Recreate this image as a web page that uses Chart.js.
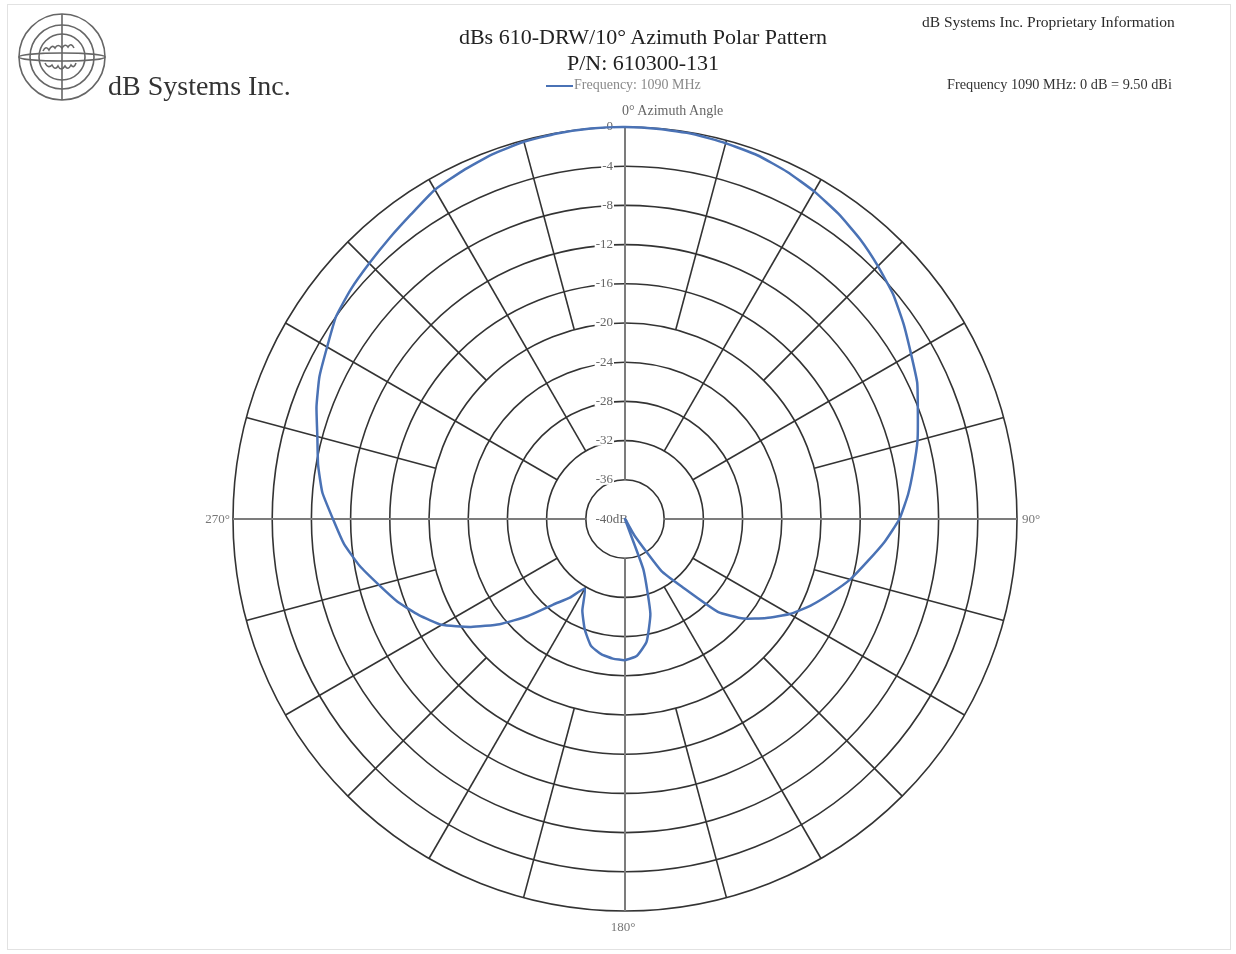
<!DOCTYPE html>
<html>
<head>
<meta charset="utf-8">
<title>dBs 610-DRW/10° Azimuth Polar Pattern</title>
<script src="https://cdn.jsdelivr.net/npm/chart.js@4.4.0/dist/chart.umd.min.js"></script>
<style>
    body { margin: 0; background: #fff; font-family: "Liberation Serif", "Times New Roman", serif; }
    #page { position: relative; width: 1236px; height: 954px; overflow: hidden; background: #fff; }
    #frame { position: absolute; left: 7px; top: 4px; width: 1224px; height: 946px; border: 1px solid #e2e2e2; box-sizing: border-box; }
    #polar { position: absolute; left: 0; top: 0; }
    .txt { position: absolute; white-space: nowrap; }
    #logo { position: absolute; left: 17px; top: 13px; }
    #company { left: 108px; top: 70px; font-size: 28px; color: #333; }
    #title { left: 0; width: 1286px; text-align: center; top: 24px; font-size: 22px; color: #222; line-height: 26px; }
    #legend { left: 546px; top: 77px; font-size: 14px; color: #8a8a8a; }
    #legend span { display: inline-block; width: 27px; height: 2px; background: #4a72b5; vertical-align: middle; margin-right: 1px; }
    #azTitle { left: 622px; top: 103px; font-size: 14px; color: #666; }
    #proprietary { left: 922px; top: 13px; font-size: 15.5px; color: #2a2a2a; }
    #freqNote { left: 947px; top: 76px; font-size: 14.3px; color: #333; }
</style>
</head>
<body>
<div id="page">
    <div id="frame"></div>
    <canvas id="polar" width="1236" height="954"></canvas>
    <svg id="logo" width="92" height="90" viewBox="0 0 92 90">
        <g fill="none" stroke="#666" stroke-width="1.6">
            <circle cx="45" cy="44" r="43"/>
            <circle cx="45" cy="44" r="32"/>
            <circle cx="45" cy="44" r="23"/>
            <line x1="45" y1="1" x2="45" y2="87"/>
            <ellipse cx="45" cy="44" rx="43" ry="4"/>
            <path d="M26 38 q3 -6 6 -1 q3 -6 6 -2 q3 -5 7 0 q3 -5 6 -1 q3 -5 6 1"/>
            <path d="M28 50 q3 6 7 2 q3 6 6 1 q3 6 7 0 q3 5 6 -1 q3 4 5 -2"/>
        </g>
    </svg>
    <div class="txt" id="company">dB Systems Inc.</div>
    <div class="txt" id="title">dBs 610-DRW/10° Azimuth Polar Pattern<br>P/N: 610300-131</div>
    <div class="txt" id="legend"><span></span>Frequency: 1090 MHz</div>
    <div class="txt" id="azTitle">0° Azimuth Angle</div>
    <div class="txt" id="proprietary">dB Systems Inc. Proprietary Information</div>
    <div class="txt" id="freqNote">Frequency 1090 MHz: 0 dB = 9.50 dBi</div>
</div>
<script>
// azimut en grados, cada 5°
const azimuth = [
    0, 5, 10, 15, 20, 25, 30, 35, 40, 45, 50, 55,
    60, 65, 70, 75, 80, 85, 90, 95, 100, 105, 110, 115,
    120, 125, 130, 135, 140, 145, 150, 155, 160, 165, 170, 175,
    180, 185, 190, 195, 200, 205, 210, 215, 220, 225, 230, 235,
    240, 245, 250, 255, 260, 265, 270, 275, 280, 285, 290, 295,
    300, 305, 310, 315, 320, 325, 330, 335, 340, 345, 350, 355
];

const gain1090 = [
    0, -0.05, -0.1, -0.3, -0.5, -0.9, -1.4, -2.0, -2.7, -3.5, -4.3, -5.3,
    -6.3, -7.1, -8.2, -9.1, -10.1, -11.0, -12.0, -13.4, -14.9, -16.2, -17.7, -19.1,
    -20.6, -22.4, -24.2, -26.6, -31.0, -33.5, -38.0, -40, -34.5, -30.0, -27.3, -26.0,
    -25.6, -25.7, -26.0, -26.6, -28.0, -29.7, -31.8, -30.2, -28.6, -26.0, -23.3, -20.8,
    -18.4, -16.8, -15.3, -14.0, -12.5, -11.2, -10.2, -9.0, -8.2, -7.5, -6.5, -5.6,
    -4.9, -4.0, -3.5, -3.1, -2.6, -2.0, -1.2, -0.8, -0.4, -0.15, -0.05, 0
];

// anillos del eje radial
const ringTicks = [0, -4, -8, -12, -16, -20, -24, -28, -32, -36];
const ringLabels = ['0', '-4', '-8', '-12', '-16', '-20', '-24', '-28', '-32', '-36'];
const spokeAngles = [0, 15, 30, 45, 60, 75, 90, 105, 120, 135, 150, 165,
    180, 195, 210, 225, 240, 255, 270, 285, 300, 315, 330, 345];

const polarGrid = {
    id: 'polarGrid',
    beforeDatasetsDraw(chart) {
        const r = chart.scales.r;
        const ctx = chart.ctx;
        const cx = r.xCenter, cy = r.yCenter;
        ctx.save();

        // círculos
        ctx.strokeStyle = '#333';
        ctx.lineWidth = 1.6;
        ringTicks.forEach(v => {
            ctx.beginPath();
            ctx.arc(cx, cy, r.getDistanceFromCenterForValue(v), 0, Math.PI * 2);
            ctx.stroke();
        });

        // radios: los de 90° llegan a -36, los de 30° a -32, el resto a -20
        spokeAngles.forEach(a => {
            const idx = azimuth.indexOf(a);
            const inner = a % 90 === 0 ? -36 : (a % 30 === 0 ? -32 : -20);
            const p1 = r.getPointPosition(idx, r.getDistanceFromCenterForValue(inner));
            const p2 = r.getPointPosition(idx, r.drawingArea);
            ctx.strokeStyle = a % 90 === 0 ? '#7c7c7c' : '#333';
            ctx.lineWidth = a % 90 === 0 ? 2 : 1.6;
            ctx.beginPath();
            ctx.moveTo(p1.x, p1.y);
            ctx.lineTo(p2.x, p2.y);
            ctx.stroke();
        });

        // etiquetas de los anillos
        ctx.font = '13px "Liberation Serif", serif';
        ctx.textAlign = 'right';
        ctx.textBaseline = 'middle';
        ringTicks.forEach((v, i) => {
            const y = cy - r.getDistanceFromCenterForValue(v);
            const w = ctx.measureText(ringLabels[i]).width;
            ctx.fillStyle = '#fff';
            ctx.fillRect(cx - 12 - w - 1, y - 5, w + 2, 10);
            ctx.fillStyle = '#666';
            ctx.fillText(ringLabels[i], cx - 12, y);
        });
        ctx.fillText('-40dB', cx + 3, cy + 1);

        // etiquetas de azimut
        ctx.fillStyle = '#777';
        ctx.fillText('270°', cx - r.drawingArea - 3, cy + 1);
        ctx.textAlign = 'left';
        ctx.fillText('90°', cx + r.drawingArea + 5, cy + 1);
        ctx.textAlign = 'center';
        ctx.fillText('180°', cx - 2, cy + r.drawingArea + 17);
        ctx.restore();
    }
};

const ctx = document.getElementById('polar').getContext('2d');
new Chart(ctx, {
    type: 'radar',
    data: {
        labels: azimuth,
        datasets: [{
            label: 'Frequency: 1090 MHz',
            data: gain1090,
            borderColor: '#4a72b5',
            borderWidth: 2.5,
            fill: false,
            pointRadius: 0,
            pointHoverRadius: 0,
            tension: 0.15
        }]
    },
    options: {
        responsive: false,
        animation: false,
        layout: { padding: { left: 233, right: 219, top: 127, bottom: 43 } },
        plugins: {
            legend: { display: false },
            tooltip: { enabled: false }
        },
        scales: {
            r: {
                min: -40,
                max: 0,
                ticks: { display: false, stepSize: 4 },
                grid: { display: false },
                angleLines: { display: false },
                pointLabels: { display: false }
            }
        }
    },
    plugins: [polarGrid]
});
</script>
</body>
</html>
